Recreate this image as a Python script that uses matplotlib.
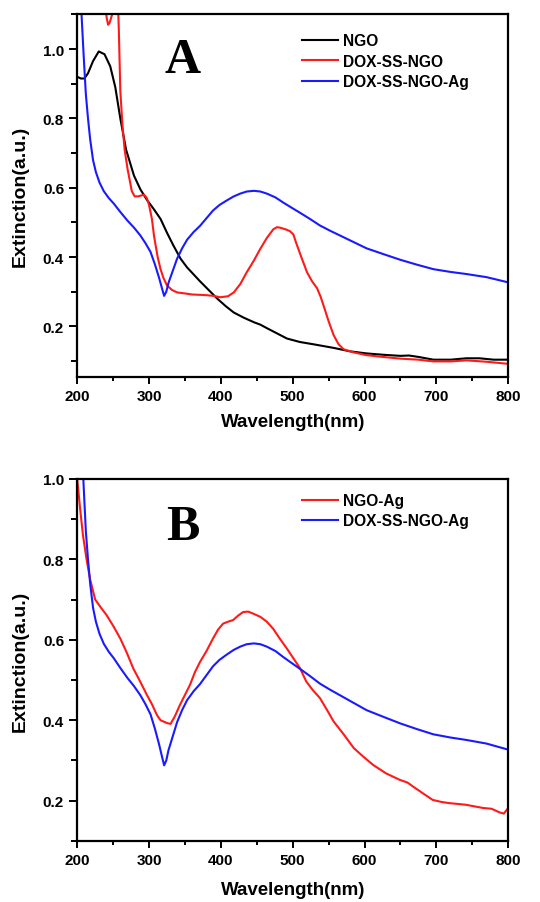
import matplotlib
matplotlib.use("Agg")
import matplotlib.pyplot as plt
from matplotlib.ticker import MultipleLocator

# ---- panel A data ----
ngo_x = [200, 205, 210, 215, 222, 230, 238, 246, 253, 260, 268, 279, 288, 297, 306, 316, 325, 334, 344, 353,
         362, 371, 383, 395, 407, 418, 432, 446, 455, 464, 478, 492, 510, 530, 557, 580, 603, 627, 650, 662,
         675, 696, 720, 742, 760, 780, 800]
ngo_y = [0.92, 0.915, 0.915, 0.93, 0.965, 0.993, 0.985, 0.95, 0.89, 0.80, 0.71, 0.635, 0.595, 0.565, 0.54,
         0.51, 0.47, 0.433, 0.395, 0.37, 0.35, 0.33, 0.305, 0.28, 0.258, 0.24, 0.225, 0.212, 0.205, 0.195,
         0.18, 0.165, 0.155, 0.148, 0.138, 0.128, 0.122, 0.118, 0.115, 0.116, 0.112, 0.104, 0.104, 0.108,
         0.108, 0.104, 0.104]

dox_x = [200, 220, 238, 241, 243, 245, 248, 251, 254, 256, 258, 260, 263, 266, 270, 276, 280, 285, 293, 297,
         300, 304, 307, 312, 316, 320, 325, 332, 339, 350, 360, 371, 380, 390, 399, 410, 418, 427, 436, 446,
         455, 464, 473, 478, 482, 490, 496, 501, 505, 512, 520, 527, 534, 539, 543, 550, 557, 564, 571, 585,
         603, 625, 650, 675, 696, 720, 742, 770, 800]
dox_y = [1.40, 1.35, 1.15, 1.09, 1.07, 1.075, 1.095, 1.12, 1.16, 1.18, 1.05, 0.88, 0.78, 0.71, 0.655, 0.59,
         0.575, 0.575, 0.58, 0.57, 0.55, 0.51, 0.46, 0.40, 0.365, 0.34, 0.318, 0.305, 0.298, 0.295, 0.292,
         0.291, 0.29, 0.288, 0.284, 0.287, 0.298, 0.322, 0.356, 0.39, 0.424, 0.455, 0.48, 0.486, 0.485,
         0.48, 0.475, 0.465, 0.44, 0.40, 0.356, 0.33, 0.31, 0.285, 0.26, 0.215, 0.175, 0.148, 0.134, 0.125,
         0.117, 0.112, 0.107, 0.104, 0.099, 0.099, 0.102, 0.098, 0.092]

# DOX-SS-NGO-Ag appears in both panels
ag_x = [200, 203, 206, 209, 212, 215, 218, 222, 226, 231, 237, 244, 251, 260, 270, 279, 288, 295, 302, 308,
        314, 318, 321, 324, 327, 333, 339, 346, 353, 362, 371, 380, 389, 398, 408, 418, 427, 436, 446, 455,
        464, 476, 487, 498, 510, 524, 538, 552, 566, 585, 603, 627, 650, 673, 696, 720, 742, 770, 800]
ag_y = [1.35, 1.22, 1.10, 0.98, 0.87, 0.80, 0.74, 0.68, 0.645, 0.615, 0.59, 0.57, 0.554, 0.53, 0.505, 0.485,
        0.462, 0.44, 0.415, 0.38, 0.34, 0.31, 0.288, 0.30, 0.325, 0.36, 0.395, 0.425, 0.45, 0.472, 0.49,
        0.512, 0.534, 0.55, 0.563, 0.575, 0.583, 0.589, 0.591, 0.589, 0.583, 0.572, 0.557, 0.543, 0.528,
        0.51, 0.491, 0.476, 0.462, 0.443, 0.425, 0.408, 0.392, 0.378, 0.365, 0.357, 0.351, 0.342, 0.327]

# ---- panel B data ----
ngoag_x = [200, 204, 208, 213, 218, 225, 233, 241, 250, 260, 269, 278, 288, 297, 304, 311, 316, 320, 325, 330,
           336, 343, 350, 357, 364, 371, 380, 389, 396, 403, 410, 417, 424, 431, 438, 445, 455, 464, 473, 482,
           492, 501, 510, 519, 528, 538, 548, 557, 571, 585, 598, 612, 630, 649, 660, 667, 680, 695, 707, 718,
           730, 741, 753, 765, 777, 788, 794, 800]
ngoag_y = [1.0, 0.926, 0.86, 0.80, 0.75, 0.70, 0.68, 0.661, 0.635, 0.603, 0.568, 0.529, 0.495, 0.463, 0.44,
           0.413, 0.40, 0.397, 0.393, 0.391, 0.41, 0.438, 0.463, 0.488, 0.52, 0.545, 0.572, 0.603, 0.625,
           0.64, 0.645, 0.649, 0.66, 0.669, 0.67, 0.665, 0.657, 0.645, 0.627, 0.603, 0.578, 0.554, 0.53,
           0.496, 0.475, 0.455, 0.425, 0.397, 0.365, 0.331, 0.31, 0.289, 0.268, 0.252, 0.245, 0.236, 0.22,
           0.202, 0.197, 0.194, 0.192, 0.19, 0.186, 0.182, 0.18, 0.171, 0.168, 0.182]

wl_ticks = [200, 300, 400, 500, 600, 700, 800]

plt.rcParams['font.family'] = ['Liberation Sans', 'DejaVu Sans']
plt.rcParams['font.weight'] = 'bold'

fig = plt.figure(figsize=(5.4, 9.03), dpi=100)
axA = fig.add_axes([0.143, 0.581, 0.798, 0.402])
axB = fig.add_axes([0.143, 0.0676, 0.798, 0.401])

axA.plot(ngo_x, ngo_y, color='black', lw=1.5, label='NGO')
axA.plot(dox_x, dox_y, color='#ff1a1a', lw=1.5, label='DOX-SS-NGO')
axA.plot(ag_x, ag_y, color='#1a1aff', lw=1.5, label='DOX-SS-NGO-Ag')
axA.set_ylim(0.053, 1.10)

axB.plot(ngoag_x, ngoag_y, color='#ff1a1a', lw=1.5, label='NGO-Ag')
axB.plot(ag_x, ag_y, color='#1a1aff', lw=1.5, label='DOX-SS-NGO-Ag')
axB.set_ylim(0.10, 1.0)

for ax, letter, ly, leg_top, xpad in [(axA, 'A', 0.875, 0.948, 8), (axB, 'B', 0.866, 0.961, 11.5)]:
    ax.set_xlim(200, 800)
    ax.set_xticks(wl_ticks)
    ax.xaxis.set_minor_locator(MultipleLocator(50))
    ax.yaxis.set_major_locator(MultipleLocator(0.2))
    ax.yaxis.set_minor_locator(MultipleLocator(0.1))
    ax.tick_params(which='both', direction='out', top=False, right=False, labelsize=11, width=1.4)
    ax.tick_params(axis='y', which='major', length=6)
    ax.tick_params(axis='y', which='minor', length=4)
    ax.tick_params(axis='x', which='major', length=5)
    ax.tick_params(axis='x', which='minor', length=3)
    for lab in ax.get_xticklabels() + ax.get_yticklabels():
        lab.set_fontweight('bold')
    for s in ax.spines.values():
        s.set_linewidth(1.6)
    ax.set_xlabel('Wavelength(nm)', fontsize=13.5, fontweight='bold', labelpad=xpad - 1)
    ax.set_ylabel('Extinction(a.u.)', fontsize=14, fontweight='bold', labelpad=10)
    ax.text(0.244, ly, letter, transform=ax.transAxes, ha='center', va='center',
            fontsize=36, fontweight='bold', family=['Liberation Serif', 'DejaVu Serif'])
    ax.legend(loc='upper left', bbox_to_anchor=(0.522, leg_top), frameon=False, fontsize=11.2,
              handlelength=2.3, handletextpad=0.32, labelspacing=0.35, borderaxespad=0, borderpad=0)

fig.savefig('out.png', dpi=100, facecolor='white')
